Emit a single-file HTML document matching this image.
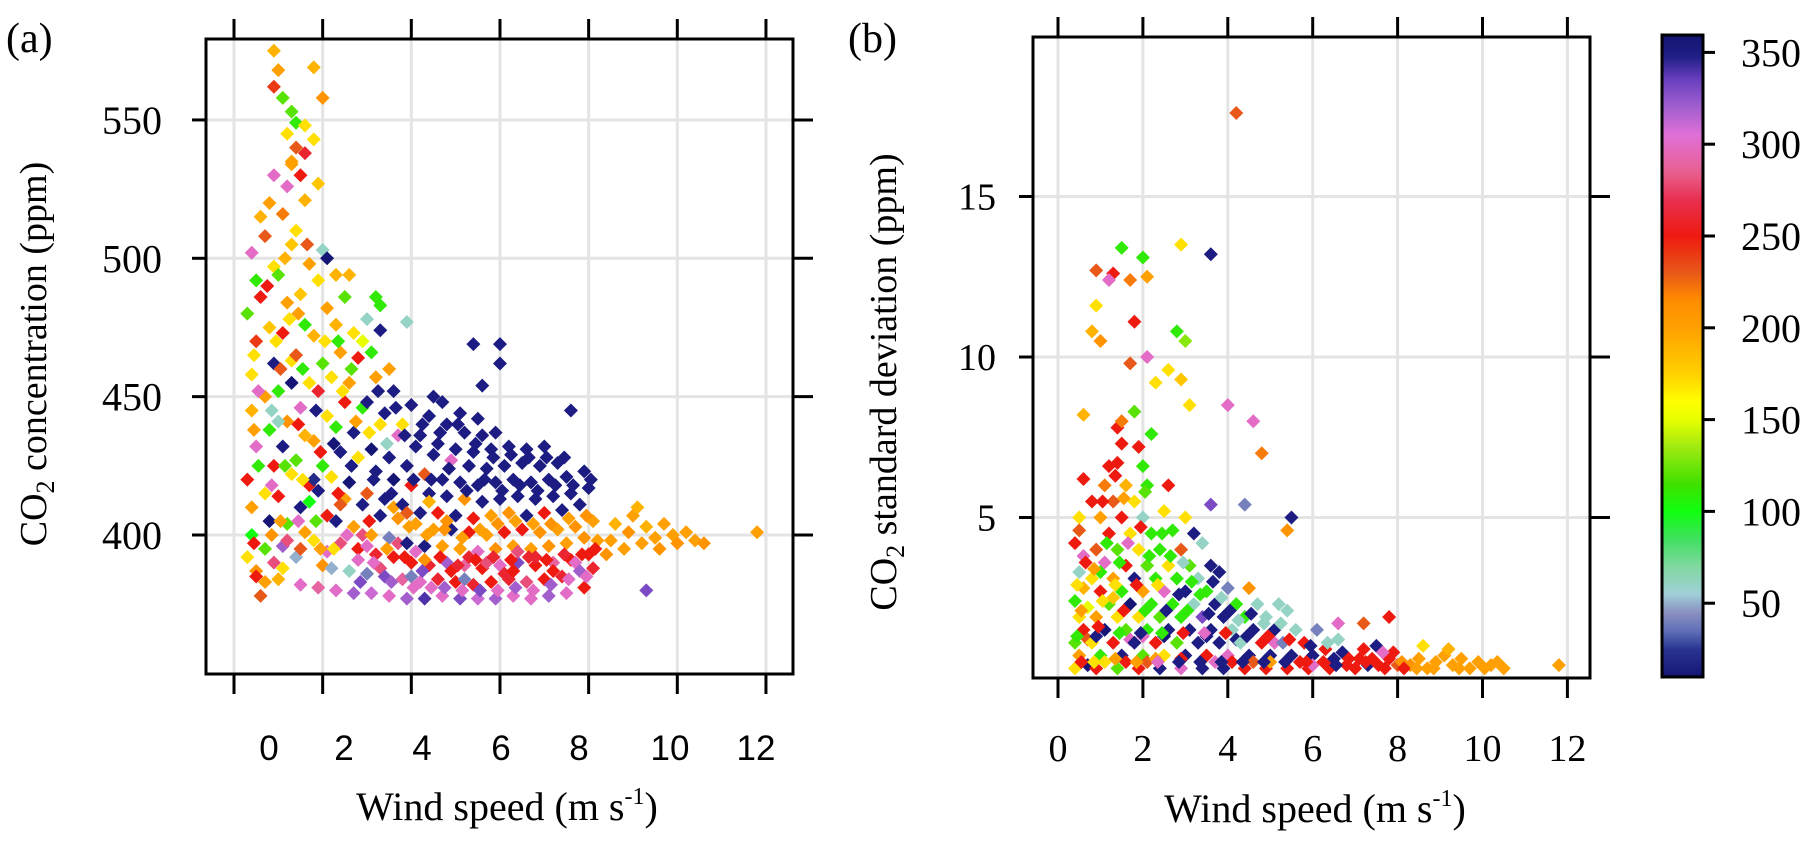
<!DOCTYPE html>
<html><head><meta charset="utf-8"><title>CO2 vs wind speed</title>
<style>
html,body{margin:0;padding:0;background:#fff;}
svg{display:block;font-family:"Liberation Serif",serif;}
</style></head>
<body>
<svg id="fig" width="1817" height="842" viewBox="0 0 1817 842" xmlns="http://www.w3.org/2000/svg">
<g id="panelA"></g>
<g id="panelB"></g>
<g id="cbar"></g>
<text x="6" y="52" font-size="42">(a)</text>
<text x="848" y="52" font-size="42">(b)</text>
<text transform="translate(46,354) rotate(-90)" text-anchor="middle" font-size="38">CO<tspan font-size="26" dy="8">2</tspan><tspan dy="-8"> concentration (ppm)</tspan></text>
<text transform="translate(896,382) rotate(-90)" text-anchor="middle" font-size="38">CO<tspan font-size="26" dy="8">2</tspan><tspan dy="-8"> standard deviation (ppm)</tspan></text>
<text x="507" y="820" text-anchor="middle" font-size="40">Wind speed (m s<tspan font-size="24" dy="-16">-1</tspan><tspan dy="16">)</tspan></text>
<text x="1315" y="822" text-anchor="middle" font-size="40">Wind speed (m s<tspan font-size="24" dy="-16">-1</tspan><tspan dy="16">)</tspan></text>
</svg>
<script>
// ---------- data ----------
const aXTicks=[0,2,4,6,8,10,12];
const aXTickLabels=["0","2","4","6","8","10","12"];
const aYTicks=[400,450,500,550];
const bXTicks=[0,2,4,6,8,10,12];
const bYTicks=[5,10,15];
const cbTicks=[50,100,150,200,250,300,350];
// panel (a): [wind speed, CO2 ppm, wind direction]
const pointsA=[
[0.3,392,170],[0.4,400,100],[0.4,410,200],[0.3,420,250],[0.5,432,300],[0.4,445,190],[0.4,458,170],[0.5,470,240],[0.3,480,120],[0.5,492,110],[0.4,502,300],[0.5,387,210],[0.6,378,230],[0.5,385,250],
[0.7,395,120],[0.8,405,10],[0.7,415,170],[0.9,425,250],[0.8,438,110],[0.7,450,200],[0.9,462,350],[0.8,475,180],[0.6,486,250],[0.9,497,170],[0.7,508,230],[0.8,520,200],[0.9,530,300],[0.6,515,190],[0.7,383,200],[0.9,390,280],
[1.0,384,190],[1.1,396,320],[1.2,404,120],[1.0,414,250],[1.3,422,170],[1.1,432,350],[1.2,441,210],[1.0,452,110],[1.3,463,170],[1.1,473,250],[1.2,484,200],[1.0,494,120],[1.3,505,180],[1.1,516,220],[1.2,526,300],[1.3,535,200],[1.0,441,60],[1.2,398,280],[1.1,388,170],[1.3,455,10],
[1.5,382,300],[1.4,392,50],[1.6,401,200],[1.5,410,350],[1.7,418,250],[1.4,427,120],[1.6,436,190],[1.5,446,300],[1.7,455,170],[1.4,465,230],[1.6,476,110],[1.5,487,180],[1.7,498,200],[1.4,510,170],[1.6,521,190],[1.5,530,250],[1.7,412,100],[1.5,395,230],
[1.9,381,290],[2.0,389,210],[1.8,398,170],[2.1,407,250],[1.9,416,350],[2.0,425,110],[1.8,434,200],[2.1,443,170],[1.9,452,260],[2.0,462,120],[1.8,472,190],[2.1,482,200],[1.9,492,170],[2.0,503,60],[2.1,394,300],[1.8,420,20],
[2.3,380,300],[2.2,388,50],[2.4,397,280],[2.3,405,350],[2.5,413,200],[2.2,421,170],[2.4,430,350],[2.3,439,110],[2.5,448,250],[2.2,457,170],[2.4,466,200],[2.3,476,190],[2.5,486,120],[2.6,494,190],[2.4,411,230],
[2.7,379,320],[2.6,387,60],[2.8,395,250],[2.7,403,200],[2.9,411,350],[2.6,419,10],[2.8,428,170],[2.7,437,350],[2.9,446,110],[2.6,455,200],[2.8,464,250],[2.7,473,170],[2.9,400,280],[2.8,391,300],
[3.1,379,310],[3.0,386,40],[3.2,393,260],[3.1,400,200],[3.3,407,350],[3.0,415,230],[3.2,423,350],[3.1,431,10],[3.3,440,170],[3.0,448,350],[3.2,457,200],[3.1,466,110],[3.3,474,350],[3.2,486,110],[3.0,396,300],[3.3,388,280],
[3.5,378,300],[3.4,385,330],[3.6,392,250],[3.5,399,40],[3.7,406,210],[3.4,413,350],[3.6,420,10],[3.5,428,350],[3.7,436,300],[3.4,444,350],[3.6,452,350],[3.5,460,200],[3.7,397,280],[3.6,410,200],
[3.9,377,320],[3.8,384,290],[4.0,390,250],[3.9,397,350],[4.1,404,200],[3.8,411,350],[4.0,418,250],[3.9,425,350],[4.1,432,350],[3.8,440,170],[4.0,447,350],[3.9,477,60],[4.1,394,300],[4.0,385,40],[3.9,408,230],
[4.3,377,340],[4.2,383,300],[4.4,389,260],[4.3,396,350],[4.5,402,200],[4.2,408,350],[4.4,415,350],[4.3,422,230],[4.5,429,350],[4.2,436,350],[4.4,443,350],[4.5,450,350],[4.3,391,210],[4.4,412,190],
[4.7,378,300],[4.6,384,260],[4.8,390,320],[4.7,396,200],[4.9,402,350],[4.6,408,250],[4.8,414,350],[4.7,420,350],[4.9,427,300],[4.6,433,350],[4.8,440,350],[4.7,448,350],[4.9,387,250],[4.8,405,210],
[5.1,377,330],[5.0,383,250],[5.2,389,290],[5.1,395,200],[5.3,401,250],[5.0,407,350],[5.2,413,210],[5.1,419,350],[5.3,425,350],[5.0,431,350],[5.2,437,350],[5.1,444,350],[5.3,392,260],[5.2,384,40],
[5.5,377,310],[5.4,382,260],[5.6,388,250],[5.5,394,300],[5.7,400,200],[5.4,406,250],[5.6,412,350],[5.5,418,350],[5.7,424,350],[5.4,430,350],[5.6,436,350],[5.4,469,350],[5.6,454,350],[5.5,442,350],[5.7,390,280],
[5.9,377,320],[5.8,383,250],[6.0,389,300],[5.9,395,210],[6.1,401,250],[5.8,407,200],[6.0,413,350],[5.9,419,350],[6.1,425,350],[5.8,431,350],[6.0,469,350],[6.0,462,350],[5.9,437,350],[6.1,386,260],
[6.3,378,300],[6.2,384,260],[6.4,390,330],[6.3,396,200],[6.5,402,250],[6.2,408,210],[6.4,414,350],[6.3,420,350],[6.5,426,350],[6.2,432,350],[6.4,394,280],[6.3,387,250],
[6.7,377,300],[6.6,383,280],[6.8,389,250],[6.7,395,200],[6.9,401,210],[6.6,407,350],[6.8,413,350],[6.7,419,350],[6.9,425,350],[6.6,431,350],[6.8,392,260],
[7.1,378,320],[7.0,384,250],[7.2,390,290],[7.1,396,210],[7.3,402,200],[7.0,408,250],[7.2,414,350],[7.1,420,350],[7.3,426,350],[7.0,432,350],[7.2,387,250],
[7.5,379,300],[7.4,385,260],[7.6,391,250],[7.5,397,200],[7.7,403,210],[7.4,409,350],[7.6,415,350],[7.5,421,350],[7.6,445,350],[7.7,390,300],
[7.9,381,250],[7.8,387,320],[8.0,393,250],[7.9,399,210],[8.1,405,200],[7.8,411,350],[8.0,417,350],[7.9,423,350],[8.2,398,200],[8.1,388,260],
[8.4,393,210],[8.5,398,200],[8.6,404,190],[8.8,395,200],[8.9,401,210],[9.0,407,200],[9.2,397,200],[9.3,403,190],[9.3,380,330],[9.5,399,200],[9.6,395,210],[9.7,404,200],[9.9,400,200],[10.0,397,210],[10.2,401,200],[10.4,398,200],[10.6,397,210],[9.1,410,190],[11.8,401,200],
[0.9,575,190],[1.0,568,200],[1.8,569,190],[0.9,562,240],[1.1,558,120],[2.0,558,210],[1.3,553,120],[1.4,549,110],[1.6,548,170],[1.2,545,170],[1.8,543,170],[1.4,540,230],[1.6,538,260],[1.3,534,200],[1.9,527,180],[2.3,494,190],[2.1,500,10],[3.3,483,110],[3.0,478,60],[2.9,470,150],
[0.45,397,250],[0.55,425,110],[0.45,438,200],[0.55,452,300],[0.45,465,170],[0.85,400,210],[0.85,418,300],[0.85,445,60],[0.95,470,170],[0.75,490,250],[1.05,405,200],[1.15,425,120],[1.05,460,230],[1.25,478,170],[1.15,500,190],[1.45,405,300],[1.55,420,170],[1.45,440,250],[1.55,460,110],[1.45,480,200],[1.65,505,230],[1.85,405,120],[1.95,430,250],[1.85,445,350],[2.05,470,170],[1.95,395,200],[2.25,395,170],[2.35,415,250],[2.25,433,10],[2.45,452,170],[2.35,470,110],[2.55,400,300],[2.65,425,350],[2.75,441,200],[2.65,460,120],[2.85,383,330],[3.05,405,250],[3.15,420,350],[3.05,437,170],[3.25,452,350],[3.15,390,300],[3.45,395,200],[3.55,415,350],[3.45,433,60],[3.65,446,350],[3.55,383,320],[3.85,392,250],[3.95,403,200],[4.05,420,350],[3.85,436,350],[4.05,381,300],[4.25,387,330],[4.35,400,200],[4.45,420,350],[4.25,440,350],[4.45,381,300],[4.65,392,250],[4.75,402,210],[4.85,424,350],[4.65,437,350],[4.75,381,320],[5.05,389,260],[5.15,399,200],[5.25,416,350],[5.05,440,350],[5.15,380,300],[5.45,391,250],[5.55,402,200],[5.65,420,350],[5.45,433,350],[5.55,380,330],[5.85,392,260],[5.95,404,210],[6.05,416,350],[5.85,428,350],[5.95,380,300],[6.25,391,250],[6.35,405,200],[6.45,418,350],[6.25,429,350],[6.35,381,320],[6.65,392,260],[6.75,404,200],[6.85,416,350],[6.65,428,350],[6.75,380,300],[7.05,391,250],[7.15,404,210],[7.25,418,350],[7.05,428,350],[7.15,382,320],[7.45,393,260],[7.55,406,200],[7.65,418,350],[7.45,428,350],[7.55,384,300],[7.85,393,250],[7.95,407,210],[8.05,420,350],[7.95,385,300],[8.15,395,250]
];
// panel (b): [wind speed, CO2 standard deviation, wind direction]
const pointsB=[
[0.4,0.3,170],[0.5,0.7,200],[0.4,1.1,120],[0.6,1.5,250],[0.5,1.9,170],[0.4,2.4,110],[0.6,2.8,190],[0.5,3.3,60],[0.6,3.8,300],[0.4,4.2,250],[0.5,5.0,170],[0.7,0.4,10],[0.7,1.2,230],[0.6,6.2,250],[0.7,2.2,150],[0.5,4.6,230],
[0.9,0.3,250],[1.0,0.7,110],[0.8,1.1,170],[1.1,1.5,10],[0.9,1.9,200],[1.2,2.3,120],[1.0,2.7,250],[0.8,3.1,170],[1.1,3.6,300],[0.9,4.0,230],[1.2,4.5,250],[1.0,5.0,200],[0.8,5.5,250],[1.1,6.0,220],[1.2,6.6,250],[1.0,3.3,110],[0.9,1.3,350],[1.1,0.5,170],
[1.4,0.3,120],[1.5,0.7,350],[1.3,1.1,250],[1.6,1.5,120],[1.4,1.9,170],[1.7,2.3,10],[1.5,2.7,110],[1.3,3.1,200],[1.6,3.5,250],[1.4,4.0,120],[1.7,4.5,170],[1.5,5.0,250],[1.3,5.5,230],[1.6,6.0,190],[1.4,6.7,250],[1.5,7.3,250],[1.4,7.8,250],[1.7,1.2,300],[1.3,2.5,180],[1.6,0.5,250],[1.5,8.0,220],
[1.9,0.3,250],[2.0,0.7,120],[1.8,1.1,350],[2.1,1.5,110],[1.9,1.9,170],[2.2,2.3,110],[2.0,2.7,200],[1.8,3.1,350],[2.1,3.5,120],[1.9,4.0,170],[2.2,4.5,110],[2.0,5.0,60],[1.8,5.5,170],[2.1,6.0,110],[2.0,6.6,110],[1.9,7.2,250],[2.2,7.6,110],[1.8,8.3,120],[2.0,1.3,300],[2.1,0.5,230],
[2.4,0.3,350],[2.5,0.7,170],[2.3,1.1,250],[2.6,1.5,350],[2.4,1.9,120],[2.7,2.3,110],[2.5,2.7,300],[2.3,3.1,110],[2.6,3.5,170],[2.4,4.0,110],[2.7,4.6,110],[2.5,5.2,170],[2.6,6.0,250],[2.3,0.6,200],[2.5,1.3,10],
[2.9,0.3,300],[3.0,0.7,350],[2.8,1.1,120],[3.1,1.5,350],[2.9,1.9,110],[3.2,2.3,60],[3.0,2.7,350],[2.8,3.1,110],[3.1,3.5,120],[2.9,4.0,230],[3.2,4.5,350],[3.0,5.0,170],[2.9,0.6,250],
[3.4,0.3,350],[3.5,0.7,250],[3.3,1.1,350],[3.6,1.5,350],[3.4,1.9,330],[3.7,2.3,350],[3.5,2.7,110],[3.3,3.1,60],[3.6,3.5,350],[3.4,4.2,60],[3.7,0.5,300],[3.5,1.3,350],
[3.9,0.3,350],[4.0,0.7,300],[3.8,1.1,350],[4.1,1.5,60],[3.9,1.9,350],[4.2,2.3,110],[4.0,2.8,40],[3.8,3.3,350],[4.1,0.5,250],[4.2,1.2,350],
[4.4,0.3,250],[4.5,0.7,350],[4.3,1.1,60],[4.6,1.5,350],[4.4,1.9,110],[4.7,2.3,60],[4.5,2.8,210],[4.6,0.5,230],
[4.9,0.3,250],[5.0,0.7,350],[4.8,1.1,250],[5.1,1.5,350],[4.9,1.9,60],[5.2,2.3,60],[5.0,0.5,200],[5.1,1.1,300],
[5.4,0.3,250],[5.5,0.7,350],[5.3,1.1,40],[5.6,1.5,60],[5.4,2.1,60],[5.7,0.5,250],
[5.9,0.3,250],[6.0,0.7,350],[5.8,1.1,250],[6.1,1.5,40],[6.0,0.4,300],
[6.4,0.3,250],[6.5,0.6,350],[6.3,0.9,250],[6.6,1.2,60],[6.8,0.4,250],[6.7,0.8,350],[6.6,1.7,300],
[7.0,0.3,250],[7.1,0.6,250],[7.3,0.4,350],[7.2,0.9,250],[7.4,0.6,250],[7.5,1.0,350],[7.2,1.7,230],
[7.7,0.3,250],[7.8,0.6,250],[8.0,0.4,230],[7.9,0.8,250],[7.8,1.9,250],[8.1,0.5,210],
[8.3,0.4,210],[8.5,0.6,200],[8.7,0.3,200],[8.9,0.5,200],[9.1,0.7,200],[9.3,0.4,200],[9.5,0.6,200],[9.7,0.3,200],[9.9,0.5,200],[10.2,0.4,200],[10.5,0.3,200],[8.6,1.0,170],[9.2,0.9,190],[11.8,0.4,200],
[4.2,17.6,230],[1.5,13.4,110],[1.3,12.6,250],[0.9,12.7,230],[1.2,12.4,300],[1.7,12.4,220],[2.0,13.1,110],[2.9,13.5,170],[3.6,13.2,350],[0.9,11.6,170],[1.8,11.1,250],[2.1,12.5,200],[0.8,10.8,190],[2.8,10.8,110],[3.0,10.5,130],[1.0,10.5,210],[2.1,10.0,300],[1.7,9.8,230],[2.3,9.2,170],[2.6,9.6,170],[2.9,9.3,180],[4.0,8.5,300],[4.6,8.0,300],[4.8,7.0,220],[3.1,8.5,170],[0.6,8.2,190],[3.6,5.4,330],[5.5,5.0,350],[5.4,4.6,210],[4.4,5.4,40],
[0.55,0.5,250],[0.45,1.3,110],[0.55,2.1,200],[0.45,2.9,170],[0.65,3.6,250],[0.85,0.5,170],[0.95,1.6,250],[1.05,2.4,170],[0.85,3.4,200],[1.15,4.2,110],[1.05,5.5,250],[1.35,0.6,200],[1.45,1.4,110],[1.55,2.1,250],[1.35,2.9,170],[1.45,3.6,110],[1.65,4.2,300],[1.55,5.6,200],[1.35,6.3,250],[1.85,0.5,200],[1.95,1.4,350],[2.05,2.1,110],[1.85,2.9,250],[2.15,3.8,110],[1.95,4.7,250],[2.05,5.8,120],[2.35,0.5,300],[2.45,1.4,110],[2.55,2.1,350],[2.35,2.9,170],[2.65,3.8,110],[2.45,4.5,110],[2.85,0.5,350],[2.95,1.4,250],[3.05,2.1,110],[2.85,2.6,350],[3.15,3.0,110],[2.95,3.6,60],[3.35,0.5,350],[3.45,1.4,300],[3.55,2.0,350],[3.35,2.6,110],[3.65,3.0,350],[3.85,0.5,350],[3.95,1.4,250],[4.05,2.1,350],[3.85,2.5,60],[4.35,0.5,350],[4.45,1.3,350],[4.25,1.8,60],[4.55,2.0,350],[4.85,0.5,350],[4.95,1.3,250],[4.85,1.7,60],[5.35,0.5,350],[5.45,1.2,250],[5.25,1.7,60],[5.85,0.5,250],[5.95,1.0,350],[6.25,0.5,250],[6.35,1.1,60],[6.55,0.4,350],[6.85,0.6,250],[7.25,0.5,250],[7.55,0.4,250],[7.65,0.8,300],[8.15,0.3,250],[8.45,0.3,200],[8.85,0.3,200],[9.45,0.3,200],[10.05,0.3,200],[10.35,0.5,200]
];
// ---------- colour scale (direction -> colour) ----------
const cStops=[[10,"#151575"],[25,"#2a3590"],[35,"#6070b8"],[45,"#8a90c0"],[55,"#a0d0d8"],[70,"#80d8a0"],[85,"#40e060"],[100,"#10ff10"],[115,"#40e000"],[135,"#a0ea10"],[150,"#e8ff00"],[160,"#ffff00"],[175,"#ffd000"],[200,"#ffa000"],[215,"#ff8c00"],[230,"#e85818"],[250,"#ee1a10"],[270,"#e83050"],[285,"#e86090"],[305,"#e070d8"],[322,"#9a5ccc"],[335,"#6a3fbf"],[348,"#1e1e85"],[360,"#141470"]];
function hex(c){return [1,3,5].map(i=>parseInt(c.substr(i,2),16));}
function colorOf(d){
  if(d<=cStops[0][0])return cStops[0][1];
  for(let i=1;i<cStops.length;i++){
    if(d<=cStops[i][0]){
      const t=(d-cStops[i-1][0])/(cStops[i][0]-cStops[i-1][0]);
      const a=hex(cStops[i-1][1]),b=hex(cStops[i][1]);
      return "rgb("+a.map((v,k)=>Math.round(v+(b[k]-v)*t)).join(",")+")";
    }
  }
  return cStops[cStops.length-1][1];
}
// ---------- axes ----------
const ax={x0:234,xs:44.33,y0:535,yBase:400,ys:2.767,L:206,R:793,T:39,B:674};
const axX=v=>ax.x0+v*ax.xs, axY=v=>ax.y0-(v-ax.yBase)*ax.ys;
const bx={x0:1058,xs:42.45,y0:678,ys:32.1,L:1033,R:1590,T:37,B:678};
const bxX=v=>bx.x0+v*bx.xs, bxY=v=>bx.y0-v*bx.ys;
const cb={L:1662,R:1703,T:35,B:677,y0:695,ys:1.836};
const cbY=v=>cb.y0-v*cb.ys;
const aXLabelPos=[269,344,422,501,579,670,756];
const R_MARK=7;

const NS="http://www.w3.org/2000/svg";
function mk(tag,attrs,parent){const e=document.createElementNS(NS,tag);for(const k in attrs)e.setAttribute(k,attrs[k]);parent.appendChild(e);return e;}

function drawPanel(g,box,X,Y,xt,yt,pts,pfx){
  const grid=mk("g",{},g);
  
  
  xt.forEach(v=>{const l=mk("line",{x1:X(v),x2:X(v),y1:box.T,y2:box.B,stroke:"#e4e4e4","stroke-width":3},grid);
    
    });
  yt.forEach(v=>{const l=mk("line",{x1:box.L,x2:box.R,y1:Y(v),y2:Y(v),stroke:"#e4e4e4","stroke-width":3},grid);
    
    });
  const pg=mk("g",{},g);
  
  
  pts.forEach(p=>{
    const cx=X(p[0]),cy=Math.min(Y(p[1]),box.B-5),r=R_MARK;
    if(cy<box.T)return;
    const d=mk("path",{d:`M${cx} ${cy-r}L${cx+r} ${cy}L${cx} ${cy+r}L${cx-r} ${cy}Z`,fill:colorOf(p[2])},pg);
    
    
  });
  const fr=mk("rect",{x:box.L,y:box.T,width:box.R-box.L,height:box.B-box.T,fill:"none",stroke:"#000","stroke-width":3},g);
  
  
  const tk=mk("g",{stroke:"#000","stroke-width":3},g);
  
  
  xt.forEach(v=>{mk("line",{x1:X(v),x2:X(v),y1:box.B,y2:box.B+20},tk);mk("line",{x1:X(v),x2:X(v),y1:box.T-20,y2:box.T},tk);});
  yt.forEach(v=>{mk("line",{x1:box.L-14,x2:box.L,y1:Y(v),y2:Y(v)},tk);mk("line",{x1:box.R,x2:box.R+20,y1:Y(v),y2:Y(v)},tk);});
}
const gA=document.getElementById("panelA"), gB=document.getElementById("panelB"), gC=document.getElementById("cbar");
drawPanel(gA,ax,axX,axY,aXTicks,aYTicks,pointsA,"panel-a");
drawPanel(gB,bx,bxX,bxY,bXTicks,bYTicks,pointsB,"panel-b");
// tick labels
aXTickLabels.forEach((s,i)=>{const t=mk("text",{x:aXLabelPos[i],y:760,"text-anchor":"middle","font-size":35,"font-family":"Liberation Sans Narrow, Liberation Sans, sans-serif"},gA);t.textContent=s;
  
  });
aYTicks.forEach(v=>{const t=mk("text",{x:162,y:axY(v)+14,"text-anchor":"end","font-size":40},gA);t.textContent=v;
  
  });
bXTicks.forEach(v=>{const t=mk("text",{x:bxX(v),y:761,"text-anchor":"middle","font-size":38},gB);t.textContent=v;
  
  });
bYTicks.forEach(v=>{const t=mk("text",{x:996,y:bxY(v)+13,"text-anchor":"end","font-size":38},gB);t.textContent=v;
  
  });
// colorbar
const defs=mk("defs",{},gC);
const lg=mk("linearGradient",{id:"cbg",x1:0,y1:1,x2:0,y2:0,gradientUnits:"objectBoundingBox"},defs);
const vMin=(cb.y0-cb.B)/cb.ys, vMax=(cb.y0-cb.T)/cb.ys;
cStops.forEach(s=>{mk("stop",{offset:Math.max(0,Math.min(1,(s[0]-vMin)/(vMax-vMin))),"stop-color":s[1]},lg);});
const cr=mk("rect",{x:cb.L,y:cb.T,width:cb.R-cb.L,height:cb.B-cb.T,fill:"url(#cbg)",stroke:"#000","stroke-width":3},gC);


cbTicks.forEach(v=>{const l=mk("line",{x1:cb.R,x2:cb.R+12,y1:cbY(v),y2:cbY(v),stroke:"#000","stroke-width":3},gC);
  
  
  const t=mk("text",{x:1741,y:cbY(v)+14,"font-size":40},gC);t.textContent=v;
  
  });
</script>
</body></html>
